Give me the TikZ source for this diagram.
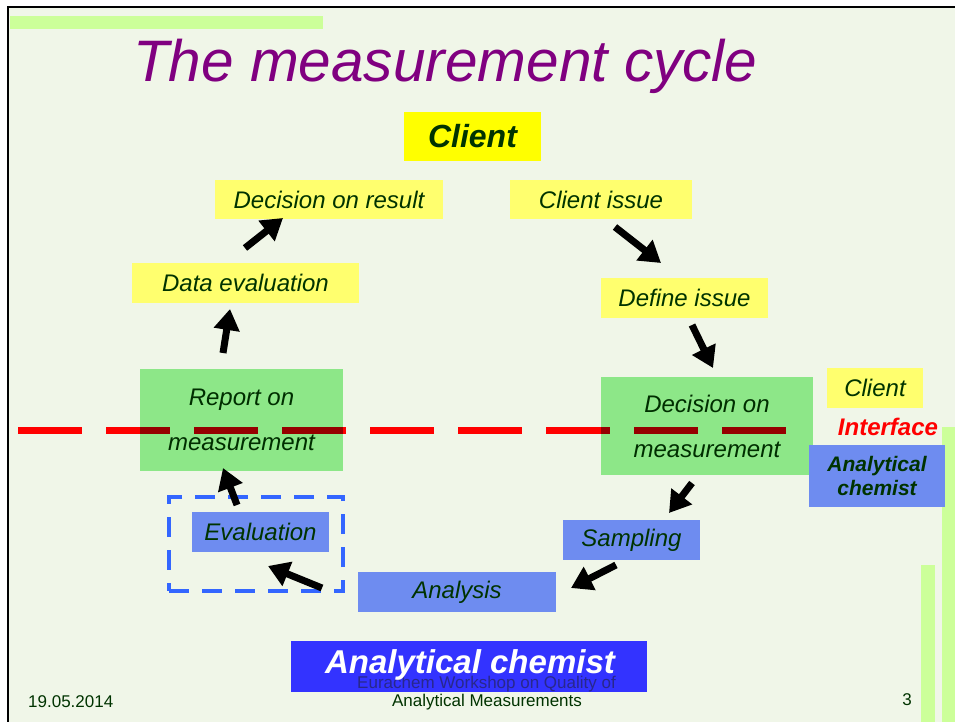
\documentclass[tikz,border=0pt]{standalone}
\usepackage{fontspec}
\setmainfont{Liberation Sans}
\usetikzlibrary{arrows.meta}
\definecolor{bg}{RGB}{240,246,232}
\definecolor{barg}{RGB}{204,255,153}
\definecolor{ttl}{RGB}{128,0,128}
\definecolor{dg}{RGB}{0,51,0}
\definecolor{ylw}{RGB}{255,255,110}
\definecolor{ylwb}{RGB}{255,255,0}
\definecolor{grn}{RGB}{150,240,150}
\definecolor{blu}{RGB}{110,140,240}
\definecolor{dblu}{RGB}{51,51,255}
\definecolor{dashc}{RGB}{51,102,255}
\definecolor{ftr}{RGB}{40,40,140}
\begin{document}
\begin{tikzpicture}[x=1pt,y=-1pt,
  box/.style={inner sep=0pt, text=dg, font=\fontsize{24}{29}\selectfont\itshape, align=center},
  ybox/.style={box, fill=ylw},
  gbox/.style={box, fill=grn, font=\fontsize{24}{45}\selectfont\itshape},
  bbox/.style={box, fill=blu},
  arr/.style={line width=7pt, -{Triangle[length=21pt,width=25pt]}, black},
  ftxt/.style={inner sep=0pt, text=dg, font=\fontsize{17}{20}\selectfont}
]
\useasboundingbox (0,0) rectangle (955,722);
\fill[white] (0,0) rectangle (955,722);
\fill[bg] (8,7) rectangle (955,722);
\draw[black, line width=2pt] (8,722) -- (8,7) -- (955,7);
% decorative bars
\fill[barg] (10,16) rectangle (323,29);
\fill[barg] (942,427) rectangle (955,722);
\fill[barg] (921,565) rectangle (935,722);
% title
\node[anchor=base west, inner sep=0pt, text=ttl, font=\fontsize{58.5}{60}\selectfont\itshape] (title) at (133,82) {The measurement cycle};
% interface line
\draw[red, line width=7pt, dash pattern=on 64pt off 24pt] (18,430) -- (790,430);
% client
\node[box, fill=ylwb, minimum width=137pt, minimum height=49pt, font=\fontsize{32}{36}\selectfont\bfseries\itshape] (client) at (472.5,136.5) {Client};
\node[ybox, minimum width=228pt, minimum height=39pt] (dres) at (329,199.5) {Decision on result};
\node[ybox, minimum width=227pt, minimum height=40pt] (deval) at (245.5,283) {Data evaluation};
\node[ybox, minimum width=182pt, minimum height=39pt] (cissue) at (601,199.5) {Client issue};
\node[ybox, minimum width=167pt, minimum height=40pt] (define) at (684.5,298) {Define issue};
\begin{scope}[blend mode=multiply]
\node[gbox, minimum width=203pt, minimum height=102pt] (report) at (241.5,420) {Report on\\measurement};
\node[gbox, minimum width=212pt, minimum height=98pt] (dmeas) at (707,426) {Decision on\\measurement};
\end{scope}
\node[bbox, minimum width=137pt, minimum height=40pt] (sampling) at (631.5,540) {Sampling};
\node[bbox, minimum width=198pt, minimum height=40pt] (analysis) at (457,592) {Analysis};
\node[bbox, minimum width=137pt, minimum height=40pt] (evaluation) at (260.5,532) {Evaluation};
\node[draw=dashc, line width=4pt, dash pattern=on 20pt off 13pt, minimum width=174pt, minimum height=94pt, inner sep=0pt] (grp) at (256,544) {};
% legend
\node[ybox, minimum width=96pt, minimum height=40pt] (lclient) at (875,388) {Client};
\node[inner sep=0pt, text=red, font=\fontsize{24}{28}\selectfont\bfseries\itshape] (linter) at (888,427) {Interface};
\node[bbox, minimum width=136pt, minimum height=62pt, font=\fontsize{21}{24}\selectfont\bfseries\itshape] (lchem) at (877,476) {Analytical\\chemist};
% arrows
\coordinate (a1s) at (615,227); \coordinate (a1e) at (661,263);
\coordinate (a2s) at (692,325); \coordinate (a2e) at (713,368);
\coordinate (a3s) at (692,483); \coordinate (a3e) at (669,513);
\coordinate (a4s) at (616,565); \coordinate (a4e) at (571,588);
\coordinate (a5s) at (322,588); \coordinate (a5e) at (268,566);
\coordinate (a6s) at (237,505); \coordinate (a6e) at (223,468);
\coordinate (a7s) at (223,353); \coordinate (a7e) at (230,309);
\coordinate (a8s) at (245,248); \coordinate (a8e) at (283,218);
\foreach \i in {1,...,8} {\draw[arr] (a\i s) -- (a\i e);}
% bottom
\node[inner sep=0pt, fill=dblu, minimum width=356pt, minimum height=51pt] (chem) at (469,666.5) {};
\node[inner sep=0pt, text=ftr, font=\fontsize{17}{20}\selectfont] (eura) at (486.5,684) {Eurachem Workshop on Quality of};
\node[inner sep=0pt, text=white, font=\fontsize{33}{36}\selectfont\bfseries\itshape] (chemt) at (470,665) {Analytical chemist};
\node[ftxt] (footer) at (487,702) {Analytical Measurements};
\node[ftxt, anchor=west] (date) at (28,702) {19.05.2014};
\node[ftxt] (page) at (907,700) {3};
\end{tikzpicture}
\end{document}
